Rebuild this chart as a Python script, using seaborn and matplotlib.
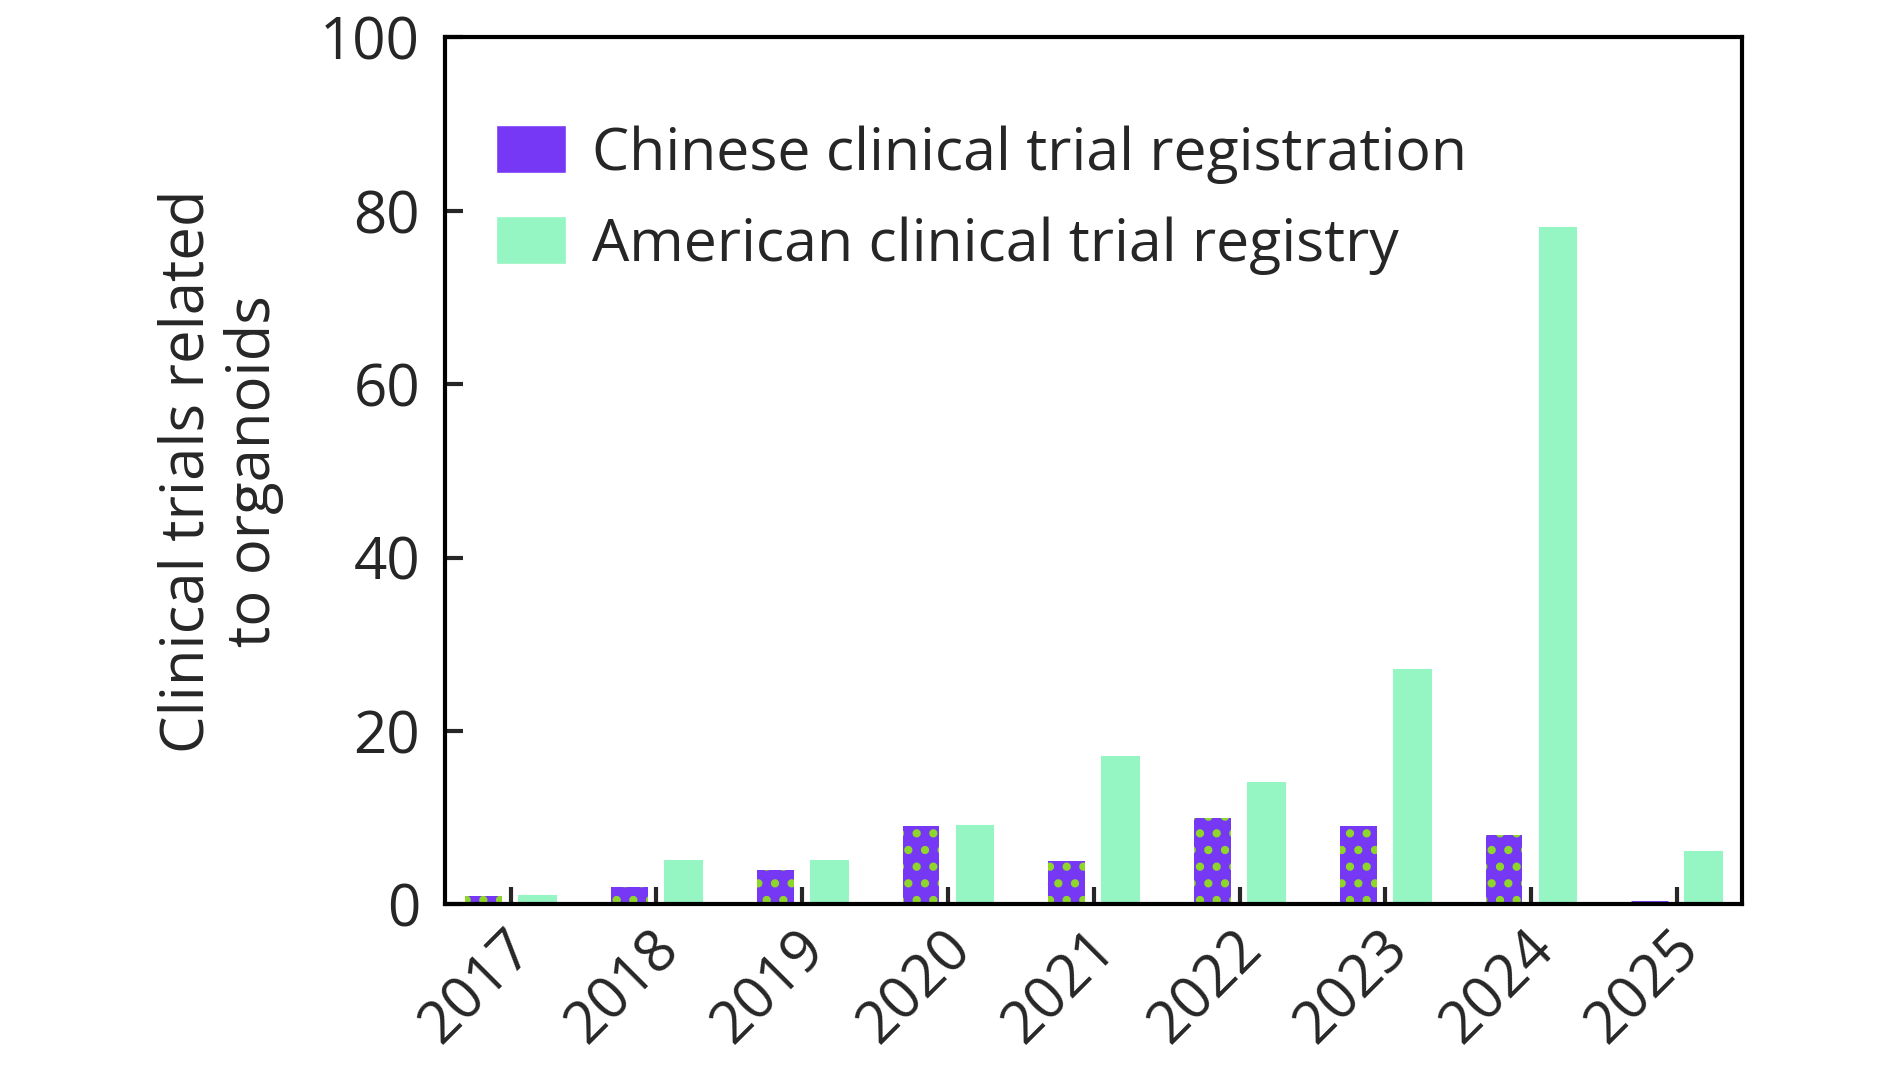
import pandas as pd
import matplotlib.pyplot as plt
import matplotlib.transforms as mtransforms
import seaborn as sns
from matplotlib.patches import Patch

# Data
years = ['2017', '2018', '2019', '2020', '2021', '2022', '2023', '2024', '2025']
chinese = [1, 2, 4, 9, 5, 10, 9, 8, 0]
american = [1, 5, 5, 9, 17, 14, 27, 78, 6]
series_names = ['Chinese clinical trial registration', 'American clinical trial registry']
y_ticks = [0, 20, 40, 60, 80, 100]

purple = '#7638f4'
green = '#95f5c3'
dots = '#8fd62a'

df = pd.DataFrame({
    'year': years * 2,
    'trials': chinese + american,
    'registry': [series_names[0]] * len(years) + [series_names[1]] * len(years),
})

sns.set_style('ticks')
plt.rcParams['font.family'] = ['Open Sans', 'DejaVu Sans']
plt.rcParams['hatch.linewidth'] = 3.5

fig = plt.figure(figsize=(18.9, 10.69), dpi=100)
ax = fig.add_axes([0.2355, 0.154, 0.6864, 0.811])

sns.barplot(data=df, x='year', y='trials', hue='registry', palette=[purple, green],
            width=0.74, gap=0.32, saturation=1, linewidth=0, ax=ax, legend=False)

# dotted fill on the Chinese bars
for bar, val in zip(ax.containers[0], chinese):
    bar.set_hatch('.')
    bar.set_edgecolor(dots)
    if val == 0:
        bar.set_edgecolor(purple)
        bar.set_linewidth(5)
for bar in ax.containers[1]:
    bar.set_edgecolor(green)
    bar.set_linewidth(1.5)

ax.set_xlim(-0.45, 8.45)
ax.set_ylim(0, 100)
ax.set_yticks(y_ticks)
ax.set_xlabel('')
ax.set_ylabel('Clinical trials related\nto organoids', fontsize=43, labelpad=26, linespacing=1.15)

for side in ['left', 'right', 'top', 'bottom']:
    ax.spines[side].set_visible(True)
    ax.spines[side].set_linewidth(3)
    ax.spines[side].set_color('black')

ax.tick_params(axis='y', direction='in', length=13, width=3, labelsize=42, pad=18)
ax.tick_params(axis='x', direction='in', length=12, width=3, labelsize=42, pad=26)
shift = mtransforms.ScaledTranslation(0.14, 0, fig.dpi_scale_trans)
for lab in ax.get_xticklabels():
    lab.set_rotation(45)
    lab.set_ha('right')
    lab.set_va('center')
    lab.set_rotation_mode('anchor')
    lab.set_transform(lab.get_transform() + shift)

handles = [Patch(facecolor=purple, label=series_names[0]),
           Patch(facecolor=green, label=series_names[1])]
ax.legend(handles=handles, loc='upper left', bbox_to_anchor=(-0.002, 0.96), frameon=False,
          fontsize=42.5, handlelength=1.2, handleheight=0.88, handletextpad=0.43, labelspacing=0.55)

fig.savefig('out.png', dpi=100)
